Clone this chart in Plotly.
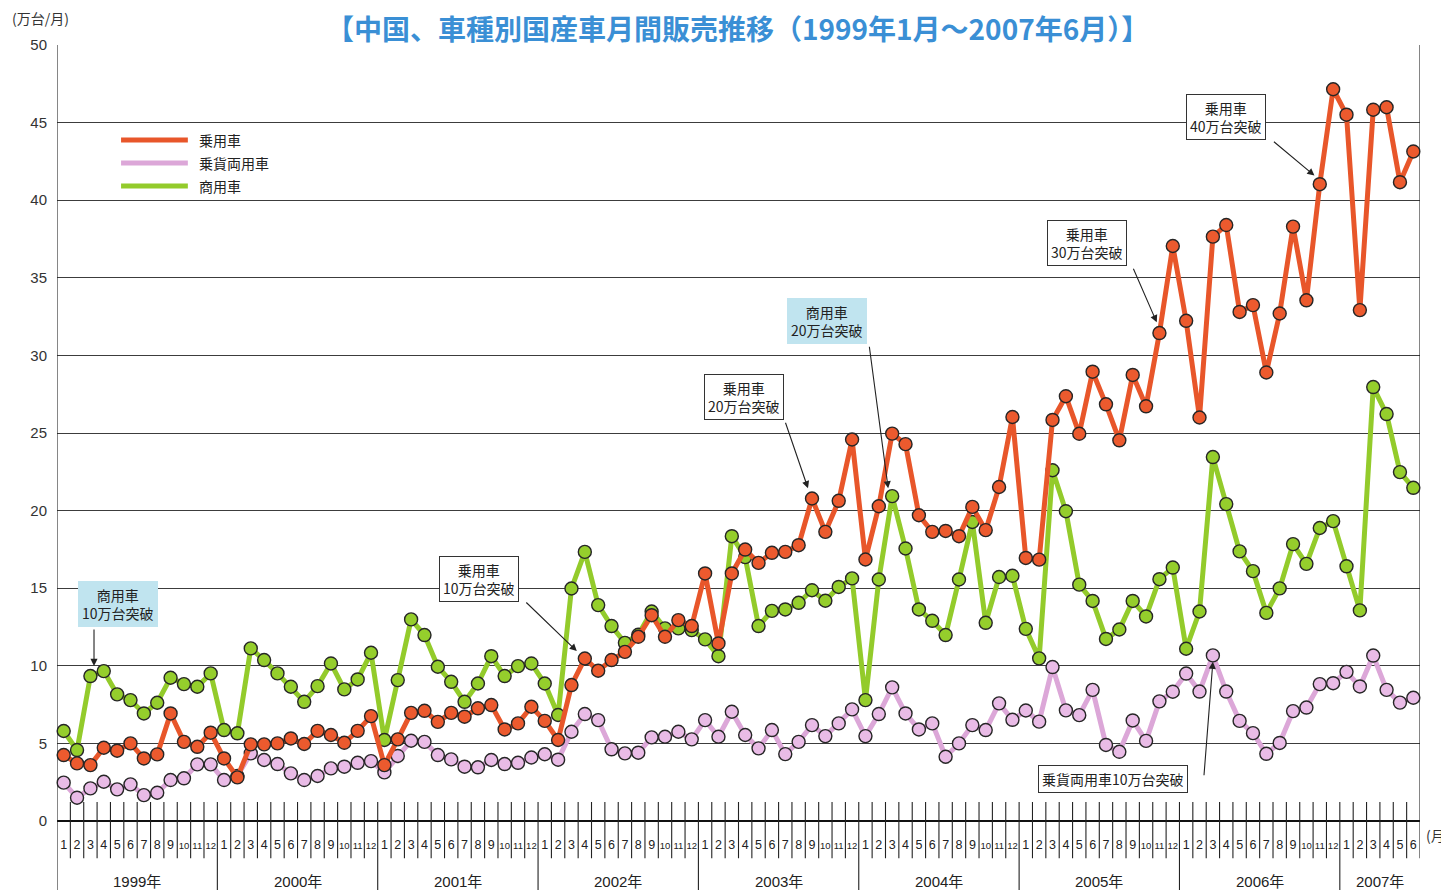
import plotly.graph_objects as go

# ---------------- data (万台/月) ----------------
years = ["1999年", "2000年", "2001年", "2002年", "2003年", "2004年", "2005年", "2006年", "2007年"]
months_per_year = [12, 12, 12, 12, 12, 12, 12, 12, 6]

passenger = [  # 乗用車
    4.25, 3.71, 3.60, 4.72, 4.53, 5.00, 4.03, 4.29, 6.93, 5.10, 4.78, 5.69,
    4.03, 2.81, 4.94, 4.94, 5.00, 5.32, 4.96, 5.81, 5.54, 5.04, 5.81, 6.76,
    3.60, 5.26, 6.97, 7.10, 6.39, 6.97, 6.72, 7.26, 7.47, 5.90, 6.29, 7.36,
    6.45, 5.22, 8.76, 10.47, 9.68, 10.37, 10.90, 11.87, 13.26, 11.87, 12.94, 12.56,
    15.95, 11.44, 15.95, 17.49, 16.63, 17.28, 17.34, 17.77, 20.78, 18.63, 20.63, 24.58,
    16.85, 20.28, 24.96, 24.28, 19.70, 18.63, 18.69, 18.35, 20.24, 18.74, 21.52, 26.03,
    16.95, 16.84, 25.84, 27.37, 24.95, 28.95, 26.85, 24.53, 28.74, 26.72, 31.44, 37.05,
    32.23, 26.00, 37.65, 38.40, 32.80, 33.24, 28.90, 32.70, 38.30, 33.55, 41.03, 47.15,
    45.51, 32.92, 45.83, 45.99, 41.16, 43.14,
]
mpv = [  # 乗貨両用車
    2.47, 1.50, 2.10, 2.53, 2.04, 2.36, 1.67, 1.82, 2.64, 2.75, 3.65, 3.65,
    2.64, 2.90, 4.36, 3.93, 3.67, 3.07, 2.64, 2.90, 3.39, 3.50, 3.75, 3.86,
    3.13, 4.19, 5.17, 5.10, 4.25, 3.97, 3.50, 3.46, 3.93, 3.67, 3.75, 4.09,
    4.30, 3.95, 5.75, 6.89, 6.50, 4.62, 4.36, 4.40, 5.39, 5.43, 5.75, 5.26,
    6.50, 5.43, 7.04, 5.54, 4.68, 5.86, 4.31, 5.10, 6.18, 5.47, 6.29, 7.19,
    5.47, 6.89, 8.61, 6.93, 5.90, 6.29, 4.14, 5.00, 6.18, 5.86, 7.58, 6.52,
    7.12, 6.40, 9.92, 7.13, 6.82, 8.45, 4.90, 4.46, 6.48, 5.16, 7.71, 8.33,
    9.50, 8.34, 10.67, 8.34, 6.45, 5.66, 4.33, 5.03, 7.08, 7.31, 8.82, 8.88,
    9.61, 8.67, 10.66, 8.45, 7.63, 7.94,
]
commercial = [  # 商用車
    5.80, 4.57, 9.34, 9.66, 8.16, 7.79, 6.93, 7.62, 9.23, 8.82, 8.65, 9.51,
    5.86, 5.65, 11.12, 10.37, 9.51, 8.65, 7.68, 8.69, 10.15, 8.48, 9.12, 10.84,
    5.22, 9.08, 12.99, 11.98, 9.94, 8.97, 7.68, 8.86, 10.62, 9.34, 9.98, 10.15,
    8.86, 6.83, 14.98, 17.34, 13.91, 12.56, 11.48, 12.00, 13.50, 12.41, 12.41, 12.30,
    11.70, 10.62, 18.35, 17.00, 12.56, 13.54, 13.63, 14.06, 14.87, 14.19, 15.08, 15.63,
    7.79, 15.56, 20.93, 17.56, 13.63, 12.90, 11.98, 15.56, 19.27, 12.77, 15.72, 15.80,
    12.38, 10.48, 22.60, 19.96, 15.23, 14.18, 11.73, 12.34, 14.18, 13.18, 15.58, 16.33,
    11.10, 13.50, 23.45, 20.42, 17.37, 16.10, 13.41, 14.99, 17.84, 16.57, 18.88, 19.32,
    16.41, 13.57, 27.96, 26.22, 22.48, 21.47,
]

series_names = ["乗用車", "乗貨両用車", "商用車"]
y_ticks = list(range(0, 51, 5))

# month tick labels
month_labels = []
for n in months_per_year:
    for m in range(1, n + 1):
        if m >= 10:
            month_labels.append(f"<span style='font-size:9.5px'>{m}</span>")
        else:
            month_labels.append(str(m))
x = list(range(1, len(passenger) + 1))

# ---------------- styles ----------------
RED_LINE, RED_FILL = "#e8562a", "#ec5a2e"
PINK_LINE, PINK_FILL = "#dca7d8", "#e9bbe6"
GREEN_LINE, GREEN_FILL = "#93cb2b", "#95ce2c"
EDGE = "#262626"
FONT = "Liberation Sans, Noto Sans CJK JP, sans-serif"
JP = "Noto Sans CJK JP, sans-serif"

fig = go.Figure()


def add_series(vals, name, lc, fc):
    fig.add_trace(go.Scatter(
        x=x, y=vals, name=name, mode="lines+markers",
        line=dict(color=lc, width=5),
        marker=dict(size=13, color=fc, line=dict(color=EDGE, width=1.4)),
        showlegend=False, cliponaxis=False,
    ))


add_series(mpv, series_names[1], PINK_LINE, PINK_FILL)
add_series(commercial, series_names[2], GREEN_LINE, GREEN_FILL)
add_series(passenger, series_names[0], RED_LINE, RED_FILL)

shapes = []
# month separators + year separators
n_months = len(x)
y_top_tick = 0.0245
y_month_bot = -0.048
y_bottom = -0.0889
for b in range(0, n_months + 1):
    xb = b + 0.5
    if b == 0:
        y0, y1 = 1.0, y_bottom
    elif b == n_months:
        y0, y1 = 1.0, y_month_bot
    elif b % 12 == 0:
        y0, y1 = y_top_tick, y_bottom
    else:
        y0, y1 = y_top_tick, y_month_bot
    shapes.append(dict(type="line", xref="x", yref="paper", x0=xb, x1=xb, y0=y0, y1=y1,
                       line=dict(color="#222", width=1.1)))

# legend lines
legend_y = [0.8776, 0.8480, 0.8183]
legend_cols = [RED_LINE, PINK_LINE, GREEN_LINE]
annotations = []
for yy, col, nm in zip(legend_y, legend_cols, series_names):
    shapes.append(dict(type="line", xref="paper", yref="paper", x0=0.047, x1=0.096, y0=yy, y1=yy,
                       line=dict(color=col, width=5)))
    annotations.append(dict(xref="paper", yref="paper", x=0.1025, y=yy, text=nm, showarrow=False,
                            xanchor="left", yanchor="middle", font=dict(family=JP, size=14, color="#222")))

# year labels
start = 0
for yl, n in zip(years, months_per_year):
    cx = start + (n + 1) / 2
    annotations.append(dict(xref="x", yref="paper", x=cx, y=-0.0775, text=yl, showarrow=False,
                            xanchor="center", yanchor="middle", font=dict(family=FONT, size=15, color="#222")))
    start += n

# axis unit labels
annotations.append(dict(xref="paper", yref="paper", x=-0.0345, y=1.0348, text="(万台/月)", showarrow=False,
                        xanchor="left", yanchor="middle", font=dict(family=JP, size=14, color="#333")))
annotations.append(dict(xref="paper", yref="paper", x=1.003, y=-0.018, text="(月)", showarrow=False,
                        xanchor="left", yanchor="middle", font=dict(family=JP, size=14, color="#333")))

# title at the top
annotations.append(dict(xref="paper", yref="paper", x=0.4996, y=1.0219,
                        text="<b>【中国、車種別国産車月間販売推移（1999年1月～2007年6月）】</b>",
                        showarrow=False, xanchor="center", yanchor="middle",
                        font=dict(family=JP, size=28, color="#3a8fd5")))

# callout boxes
BLUE_BOX = "#c0e4ef"
boxes = [
    ("商用車<br>10万台突破", 0.0451, 0.2796, BLUE_BOX, BLUE_BOX),
    ("乗用車<br>10万台突破", 0.3098, 0.3116, "white", "#333"),
    ("乗用車<br>20万台突破", 0.5040, 0.5470, "white", "#333"),
    ("商用車<br>20万台突破", 0.5649, 0.6443, BLUE_BOX, BLUE_BOX),
    ("乗用車<br>30万台突破", 0.7559, 0.7444, "white", "#333"),
    ("乗用車<br>40万台突破", 0.8575, 0.9068, "white", "#333"),
    ("乗貨両用車10万台突破", 0.7751, 0.0535, "white", "#333"),
]
for txt, bx, by, bg, bc in boxes:
    annotations.append(dict(xref="paper", yref="paper", x=bx, y=by, text=txt, showarrow=False,
                            xanchor="center", yanchor="middle", bgcolor=bg, bordercolor=bc,
                            borderwidth=1, borderpad=3,
                            font=dict(family=JP, size=14, color="#222")))

# arrows (tip in data coords, tail offset in px)
arrows = [
    (3.27, 9.99, 0, -38),
    (39.4, 10.95, -52, -50),
    (56.7, 21.44, -23, -67),
    (62.7, 21.44, -19, -143),
    (82.8, 32.13, -24, -55),
    (94.6, 41.59, -42, -35),
    (87.0, 10.26, -9, 115),
]
for ax_, ay_, dx, dy in arrows:
    annotations.append(dict(xref="x", yref="y", x=ax_, y=ay_, ax=dx, ay=dy, text="",
                            showarrow=True, arrowhead=2, arrowsize=1.3, arrowwidth=1.1,
                            arrowcolor="#222"))

# page body has an 8px margin: shift the figure so the plot sits where the reference's does
fig.update_layout(
    width=1441, height=882,
    margin=dict(l=49, r=29, t=37, b=69),
    paper_bgcolor="white", plot_bgcolor="white",
    font=dict(family=FONT, color="#333"),
    shapes=shapes, annotations=annotations,
    showlegend=False,
)
fig.update_xaxes(range=[0.5, n_months + 0.5], showgrid=False, zeroline=False, showline=False,
                 tickmode="array", tickvals=x, ticktext=month_labels, ticks="",
                 tickfont=dict(family=FONT, size=12.5, color="#222"), ticklabelstandoff=14,
                 tickangle=0)
fig.update_yaxes(range=[0, 50], tickmode="array", tickvals=y_ticks, ticktext=[str(v) for v in y_ticks],
                 showgrid=True, gridcolor="#3c3c3c", gridwidth=1.1, zeroline=True, zerolinecolor="#111",
                 zerolinewidth=1.6, showline=False, ticks="", ticklabelstandoff=9,
                 tickfont=dict(family=FONT, size=15, color="#333"))

fig.write_html("out.html")
